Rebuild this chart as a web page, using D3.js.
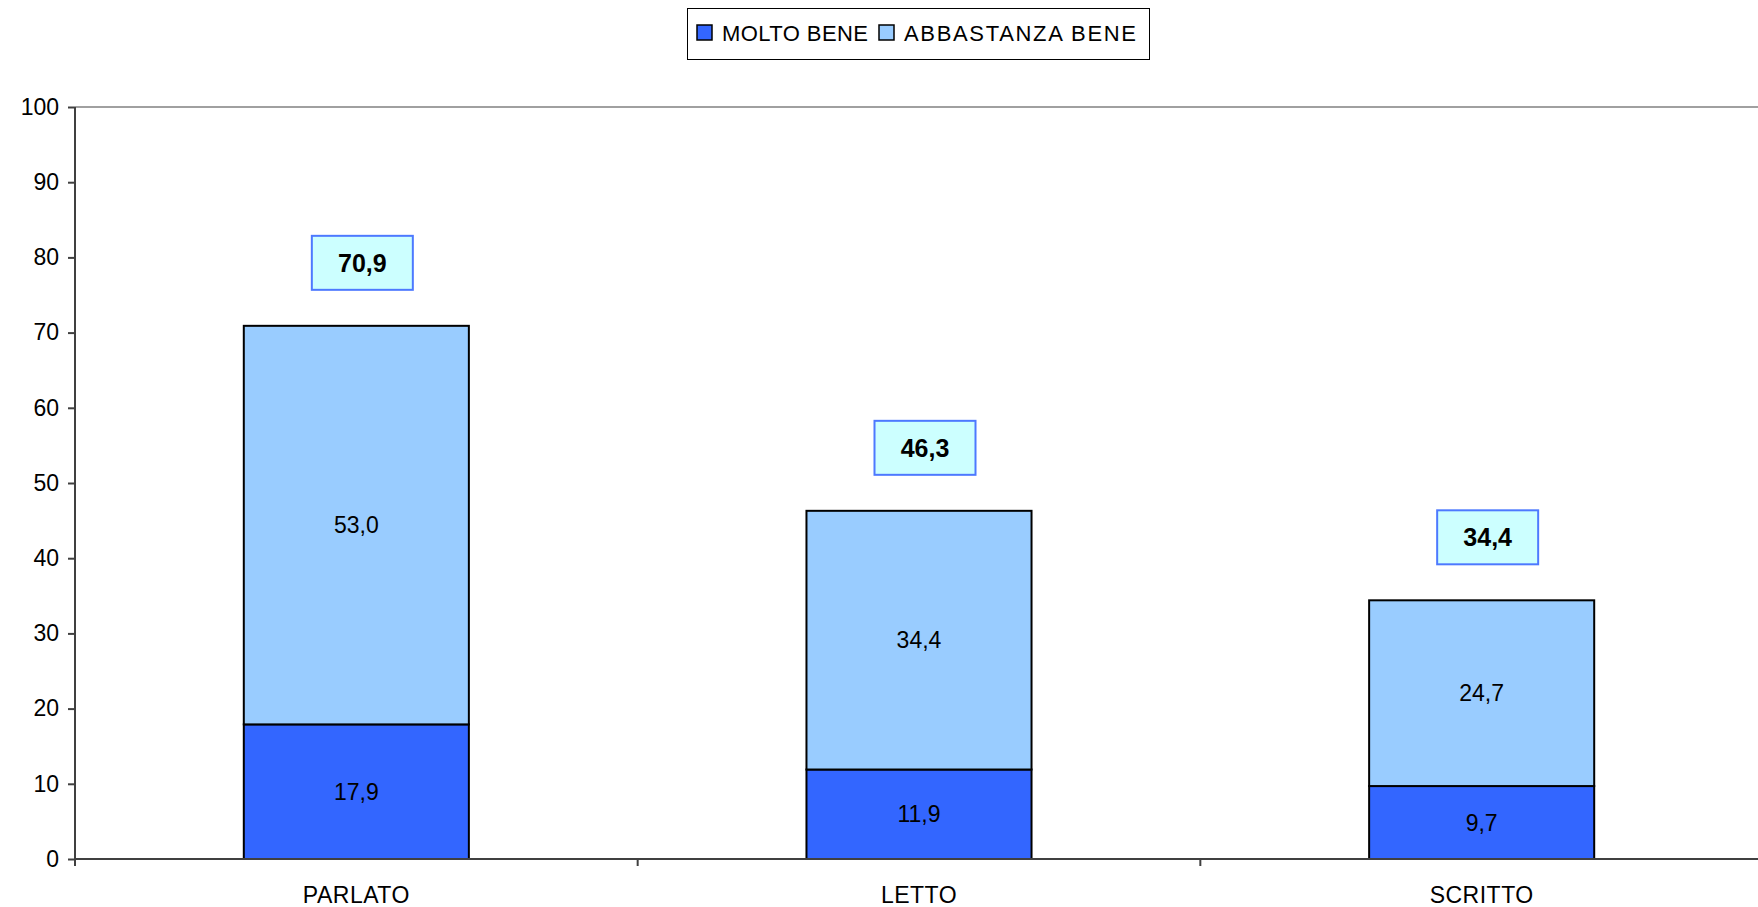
<!DOCTYPE html>
<html>
<head>
<meta charset="utf-8">
<script src="https://cdn.jsdelivr.net/npm/d3@7"></script>
<style>
  body { margin: 0; background: #fff; }
  svg { display: block; font-family: "Liberation Sans", Arial, sans-serif; }
</style>
</head>
<body>
<div id="chart"></div>
<script>
const width = 1758;
const height = 907;

// data
const categories = ["PARLATO", "LETTO", "SCRITTO"];
const moltoBene = [17.9, 11.9, 9.7];
const abbastanzaBene = [53.0, 34.4, 24.7];
const totals = [70.9, 46.3, 34.4];
const seriesNames = ["MOLTO BENE", "ABBASTANZA BENE"];
const yTicks = [0, 10, 20, 30, 40, 50, 60, 70, 80, 90, 100];

const colors = ["#3366ff", "#99ccff"];
const fmt = v => d3.format(".1f")(v).replace(".", ",");

const margin = {top: 107, right: -5, bottom: 48, left: 75};

const x = d3.scaleBand()
    .domain(categories)
    .range([margin.left, width - margin.right])
    .paddingInner(0)
    .paddingOuter(0);

const y = d3.scaleLinear()
    .domain([0, 100])
    .range([height - margin.bottom, margin.top]);

const barW = x.bandwidth() * 0.4;

const rows = categories.map((c, i) => ({cat: c, molto: moltoBene[i], abb: abbastanzaBene[i], tot: totals[i]}));
const stack = d3.stack().keys(["molto", "abb"])(rows);

const svg = d3.select("#chart")
  .append("svg")
    .attr("width", width)
    .attr("height", height);

// top border of plot area
svg.append("line")
    .attr("x1", margin.left).attr("x2", width)
    .attr("y1", y(100)).attr("y2", y(100))
    .attr("stroke", "#808080")
    .attr("stroke-width", 1.5);

// bars
svg.append("g")
  .selectAll("g")
  .data(stack)
  .join("g")
    .attr("fill", (d, i) => colors[i])
  .selectAll("rect")
  .data(d => d)
  .join("rect")
    .attr("x", d => x(d.data.cat) + (x.bandwidth() - barW) / 2)
    .attr("y", d => y(d[1]))
    .attr("width", barW)
    .attr("height", d => y(d[0]) - y(d[1]))
    .attr("stroke", "#000")
    .attr("stroke-width", 2);

// segment labels
svg.append("g")
    .attr("font-size", 23)
    .attr("text-anchor", "middle")
  .selectAll("g")
  .data(stack)
  .join("g")
  .selectAll("text")
  .data(d => d)
  .join("text")
    .attr("x", d => x(d.data.cat) + x.bandwidth() / 2)
    .attr("y", d => y((d[0] + d[1]) / 2))
    .attr("dy", "0.35em")
    .text(d => fmt(d[1] - d[0]));

// total boxes
const boxW = 101, boxH = 54;
const tot = svg.append("g")
  .selectAll("g")
  .data(rows)
  .join("g")
    .attr("transform", d => `translate(${x(d.cat) + x.bandwidth() / 2 + 6},${y(d.tot) - 36 - boxH / 2})`);

tot.append("rect")
    .attr("x", -boxW / 2)
    .attr("y", -boxH / 2)
    .attr("width", boxW)
    .attr("height", boxH)
    .attr("fill", "#ccffff")
    .attr("stroke", "#4d79ff")
    .attr("stroke-width", 2);

tot.append("text")
    .attr("text-anchor", "middle")
    .attr("dy", "0.35em")
    .attr("font-size", 25)
    .attr("font-weight", "bold")
    .text(d => fmt(d.tot));

// y axis
const yAxis = svg.append("g")
    .attr("transform", `translate(${margin.left},0)`)
    .call(d3.axisLeft(y).tickValues(yTicks).tickSize(7).tickPadding(9).tickFormat(d3.format("d")));
yAxis.selectAll("text").attr("font-size", 23).attr("fill", "#000").attr("font-family", "Liberation Sans, Arial, sans-serif");
yAxis.selectAll("line, path").attr("stroke", "#404040").attr("stroke-width", 2);
yAxis.select(".domain").attr("d", `M0,${y(100)}V${y(0) + 7}`);

// x axis
const xAxis = svg.append("g")
    .attr("transform", `translate(0,${y(0)})`);
xAxis.append("line")
    .attr("x1", margin.left).attr("x2", width)
    .attr("stroke", "#404040").attr("stroke-width", 2);
xAxis.selectAll(".sep")
  .data(categories.slice(1))
  .join("line")
    .attr("class", "sep")
    .attr("x1", d => x(d)).attr("x2", d => x(d))
    .attr("y1", 0).attr("y2", 7)
    .attr("stroke", "#404040").attr("stroke-width", 2);
xAxis.selectAll("text")
  .data(categories)
  .join("text")
    .attr("x", d => x(d) + x.bandwidth() / 2)
    .attr("y", 44)
    .attr("text-anchor", "middle")
    .attr("font-size", 23)
    .attr("letter-spacing", 0.5)
    .text(d => d);

// legend
const legend = svg.append("g");
legend.append("rect")
    .attr("x", 687.5).attr("y", 8.5)
    .attr("width", 462).attr("height", 51)
    .attr("fill", "#fff")
    .attr("stroke", "#000")
    .attr("stroke-width", 1);
const legX = [697, 879];
const item = legend.selectAll("g")
  .data(seriesNames)
  .join("g")
    .attr("transform", (d, i) => `translate(${legX[i]},25)`);
item.append("rect")
    .attr("width", 15).attr("height", 15)
    .attr("fill", (d, i) => colors[i])
    .attr("stroke", "#000")
    .attr("stroke-width", 1.5);
item.append("text")
    .attr("x", 25)
    .attr("y", 16)
    .attr("font-size", 22)
    .attr("textLength", (d, i) => i === 0 ? 146 : 232)
    .text(d => d);
</script>
</body>
</html>
